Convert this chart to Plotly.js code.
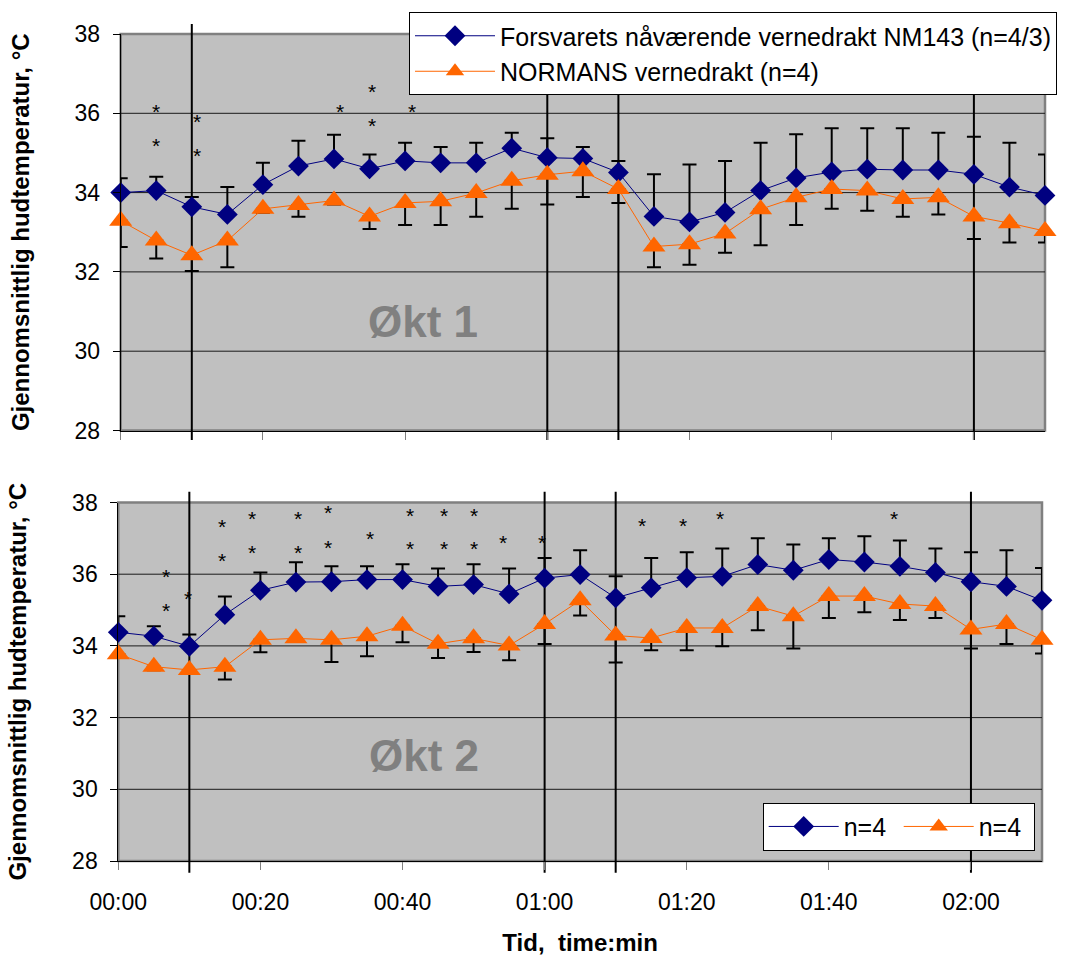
<!DOCTYPE html>
<html>
<head>
<meta charset="utf-8">
<script src="https://cdn.plot.ly/plotly-3.0.1.min.js"></script>
<style>html,body{margin:0;padding:0;background:#fff;}</style>
</head>
<body>
<div id="chart" style="width:1068px;height:956px;"></div>
<script>
// Sampling times (minutes from start)
const minutes = [0,5,10,15,20,25,30,35,40,45,50,55,60,65,70,75,80,85,90,95,100,105,110,115,120,125,130];

// Økt 1: mean skin temperature (°C) and SD
const nm143Okt1     = [34.00,34.05,33.64,33.45,34.20,34.67,34.85,34.60,34.80,34.75,34.75,35.12,34.88,34.86,34.51,33.40,33.26,33.50,34.05,34.37,34.52,34.59,34.57,34.57,34.46,34.14,33.93];
const nm143Okt1Sd   = [0.36,0.35,0.25,0.69,0.55,0.64,0.61,0.36,0.46,0.40,0.51,0.39,0.49,0.29,0.29,1.06,1.45,1.30,1.21,1.10,1.10,1.03,1.05,0.94,0.95,1.12,1.03];
const normansOkt1   = [33.29,32.79,32.42,32.79,33.59,33.69,33.80,33.40,33.74,33.78,33.99,34.30,34.45,34.54,34.09,32.64,32.70,32.97,33.58,33.88,34.09,34.05,33.84,33.88,33.40,33.23,33.03];
const normansOkt1Sd = [0.66,0.45,0.40,0.67,0.10,0.30,0.10,0.32,0.56,0.60,0.60,0.71,0.75,0.65,0.35,0.52,0.52,0.49,0.91,0.70,0.50,0.51,0.45,0.43,0.57,0.49,0.29];

// Økt 2: mean skin temperature (°C) and SD
const nm143Okt2     = [34.38,34.27,33.99,34.87,35.55,35.78,35.79,35.85,35.85,35.66,35.71,35.45,35.89,35.99,35.34,35.62,35.90,35.94,36.27,36.11,36.41,36.34,36.22,36.05,35.79,35.66,35.27];
const nm143Okt2Sd   = [0.45,0.28,0.33,0.51,0.50,0.55,0.43,0.37,0.43,0.50,0.57,0.71,0.56,0.68,0.60,0.83,0.71,0.78,0.73,0.72,0.59,0.72,0.72,0.67,0.82,1.01,0.90];
const normansOkt2   = [33.77,33.42,33.33,33.42,34.17,34.21,34.17,34.27,34.56,34.06,34.21,34.01,34.61,35.27,34.29,34.22,34.50,34.50,35.11,34.83,35.39,35.39,35.17,35.11,34.46,34.61,34.17];
const normansOkt2Sd = [0.10,0.10,0.10,0.36,0.35,0.10,0.62,0.56,0.46,0.40,0.38,0.41,0.56,0.42,0.75,0.34,0.62,0.51,0.67,0.90,0.61,0.45,0.45,0.33,0.53,0.56,0.38];

// Phase changes (minutes)
const phaseMarks = [10, 60, 70, 120];

// Axis ticks
const tickMinutes = [0, 20, 40, 60, 80, 100, 120];
const tickLabels  = ['00:00','00:20','00:40','01:00','01:20','01:40','02:00'];
const tempTicks   = [28, 30, 32, 34, 36, 38];
const gridTemps   = [30, 32, 34, 36];

// Significance markers (*), time in minutes and temperature level
const starsOkt1X = [4.9,4.9,10.8,10.8,30.8,35.3,35.3,40.9];
const starsOkt1Y = [36.15,35.28,35.90,35.03,36.15,36.65,35.80,36.15];
const starsOkt2X = [6.7,6.7,9.8,14.6,14.6,18.8,18.8,25.3,25.3,29.5,29.5,35.4,35.4,41.1,41.1,45.8,45.8,50.1,50.1,54.2,59.6,73.7,79.5,84.7,109.1];
const starsOkt2Y = [36.04,35.09,35.43,37.43,36.48,37.67,36.71,37.67,36.71,37.82,36.87,38.04,37.11,37.76,36.83,37.76,36.83,37.76,36.83,36.99,36.99,37.48,37.48,37.67,37.67];

const nameNm143   = 'Forsvarets nåværende vernedrakt NM143 (n=4/3)';
const nameNormans = 'NORMANS vernedrakt (n=4)';
const nameOkt2    = 'n=4';
const sessionLabels = ['Økt 1', 'Økt 2'];
const yTitle = 'Gjennomsnittlig hudtemperatur, °C';
const xTitle = 'Tid,\u00a0 time:min';

// ---- geometry helpers (page pixels -> paper fractions) ----
const W = 1068, H = 956;
const px = v => v / W;
const py = v => 1 - v / H;
const topDomX = [px(120.7), px(1045)];
const botDomX = [px(118.3), px(1042)];
const topDomY = [py(430.5), py(34)];
const botDomY = [py(861), py(502.5)];

const FONT = 'Liberation Sans, Arial, Helvetica, sans-serif';
const BLUE = '#000080';
const ORANGE = '#FF6600';
const zeros = minutes.map(() => 0);

function nmTrace(y, sd, xa, ya, name, legend) {
  return {
    x: minutes, y: y, xaxis: xa, yaxis: ya, name: name, legend: legend,
    type: 'scatter', mode: 'lines+markers', cliponaxis: false,
    line: {color: BLUE, width: 1},
    marker: {symbol: 'diamond', size: 16, color: BLUE},
    error_y: {type: 'data', symmetric: false, array: sd, arrayminus: zeros,
              color: '#000', thickness: 2, width: 7},
    hoverinfo: 'x+y'
  };
}
function normansTrace(y, sd, xa, ya, name, legend) {
  return {
    x: minutes, y: y, xaxis: xa, yaxis: ya, name: name, legend: legend,
    type: 'scatter', mode: 'lines+markers', cliponaxis: false,
    line: {color: ORANGE, width: 1},
    marker: {symbol: 'triangle-up', size: 20, color: ORANGE},
    error_y: {type: 'data', symmetric: false, array: zeros, arrayminus: sd,
              color: '#000', thickness: 2, width: 7},
    hoverinfo: 'x+y'
  };
}

const data = [
  nmTrace(nm143Okt1, nm143Okt1Sd, 'x', 'y', nameNm143, 'legend'),
  normansTrace(normansOkt1, normansOkt1Sd, 'x', 'y', nameNormans, 'legend'),
  nmTrace(nm143Okt2, nm143Okt2Sd, 'x2', 'y2', nameOkt2, 'legend2'),
  normansTrace(normansOkt2, normansOkt2Sd, 'x2', 'y2', nameOkt2, 'legend2')
];

function yAxis(domain, anchor) {
  return {
    domain: domain, anchor: anchor, range: [28, 38],
    tickmode: 'array', tickvals: tempTicks,
    ticks: 'outside', ticklen: 7, tickwidth: 1, tickcolor: '#000',
    showline: true, linecolor: '#000', linewidth: 1,
    showgrid: false, zeroline: false,
    tickfont: {family: FONT, size: 23, color: '#000'},
    ticklabelstandoff: 8,
    title: {text: yTitle, font: {family: FONT, size: 24, color: '#000', weight: 700}, standoff: 38},
    fixedrange: true
  };
}
function xAxis(domain, anchor, labels) {
  const ax = {
    domain: domain, anchor: anchor, range: [0, 130],
    tickmode: 'array', tickvals: tickMinutes, ticktext: tickLabels,
    showticklabels: labels,
    ticks: 'outside', ticklen: 8, tickwidth: 1, tickcolor: '#808080',
    showline: true, linecolor: '#000', linewidth: 1,
    showgrid: false, zeroline: false,
    tickfont: {family: FONT, size: 23, color: '#000'},
    ticklabelstandoff: 12,
    fixedrange: true
  };
  if (labels) {
    ax.title = {text: xTitle, font: {family: FONT, size: 24, color: '#000', weight: 700}, standoff: 22};
  }
  return ax;
}

// panel frames, grid lines and phase lines, all under the data
const shapes = [];
[[topDomX, topDomY, 'y'], [botDomX, botDomY, 'y2']].forEach(([dx, dy, yref]) => {
  shapes.push({type: 'rect', xref: 'paper', yref: 'paper', layer: 'below',
    x0: dx[0], x1: dx[1], y0: dy[0], y1: dy[1],
    line: {color: '#808080', width: 2.5}, fillcolor: 'rgba(0,0,0,0)'});
  gridTemps.forEach(t => shapes.push({type: 'line', xref: 'paper', yref: yref, layer: 'below',
    x0: dx[0], x1: dx[1], y0: t, y1: t, line: {color: '#1a1a1a', width: 1}}));
});
phaseMarks.forEach(m => {
  shapes.push({type: 'line', xref: 'x', yref: 'paper', layer: 'below',
    x0: m, x1: m, y0: py(440), y1: py(24), line: {color: '#000', width: 2}});
  shapes.push({type: 'line', xref: 'x2', yref: 'paper', layer: 'below',
    x0: m, x1: m, y0: py(872.7), y1: py(491.7), line: {color: '#000', width: 2}});
});

const annotations = [];
function addStars(xs, ys, xref, yref) {
  xs.forEach((x, i) => annotations.push({
    x: x, y: ys[i], xref: xref, yref: yref, text: '*', showarrow: false,
    yshift: -4, font: {family: FONT, size: 21, color: '#000'}
  }));
}
addStars(starsOkt1X, starsOkt1Y, 'x', 'y');
addStars(starsOkt2X, starsOkt2Y, 'x2', 'y2');
annotations.push({x: 42.5, y: 30.76, xref: 'x', yref: 'y', text: sessionLabels[0], showarrow: false,
  font: {family: FONT, size: 44, color: '#808080', weight: 700}});
annotations.push({x: 43.0, y: 30.95, xref: 'x2', yref: 'y2', text: sessionLabels[1], showarrow: false,
  font: {family: FONT, size: 44, color: '#808080', weight: 700}});

const layout = {
  width: W, height: H,
  margin: {l: 0, r: 0, t: 0, b: 0},
  paper_bgcolor: '#ffffff', plot_bgcolor: '#C0C0C0',
  font: {family: FONT, color: '#000'},
  xaxis: xAxis(topDomX, 'y', false),
  yaxis: yAxis(topDomY, 'x'),
  xaxis2: xAxis(botDomX, 'y2', true),
  yaxis2: yAxis(botDomY, 'x2'),
  showlegend: true,
  legend: {x: px(409), y: py(12), xanchor: 'left', yanchor: 'top',
    bgcolor: '#ffffff', bordercolor: '#000', borderwidth: 1, itemwidth: 80,
    font: {family: FONT, size: 25, color: '#000'}, tracegroupgap: 0},
  legend2: {x: px(762.7), y: py(802.7), xanchor: 'left', yanchor: 'top', orientation: 'h',
    bgcolor: '#ffffff', bordercolor: '#000', borderwidth: 1, itemwidth: 70, entrywidth: 50,
    font: {family: FONT, size: 25, color: '#000'}},
  shapes: shapes,
  annotations: annotations,
  hovermode: false
};

Plotly.newPlot('chart', data, layout, {displayModeBar: false, staticPlot: true});
</script>
</body>
</html>
